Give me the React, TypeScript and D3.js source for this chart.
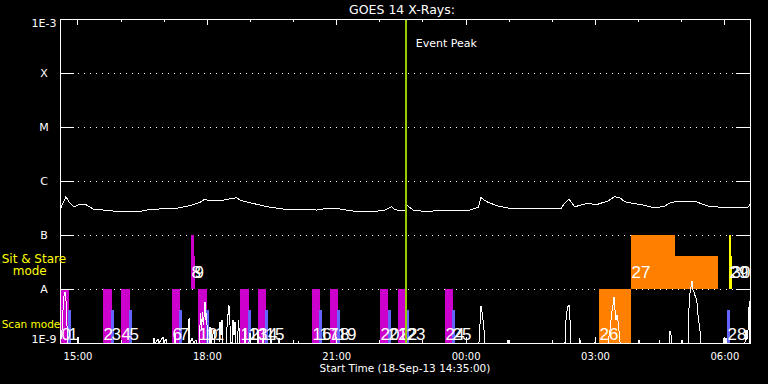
import React from "react";
import * as d3 from "d3";

// GOES 14 X-ray overview, 18-Sep-13 14:35 → +16 h
const startTime = new Date(2013, 8, 18, 14, 35, 0);
const spanHours = 16;
const peakMinute = 481; // event peak, minutes after start

// flux level labels (W m^-2)
const levelNames = ["1E-9", "A", "B", "C", "M", "X", "1E-3"];
const levelFlux = [1e-9, 1e-8, 1e-7, 1e-6, 1e-5, 1e-4, 1e-3];

// GOES long channel, minutes after start / W m^-2
const fluxMinutes = [
  1.4, 2.8, 8.3, 13.9, 19.5, 27.8, 37.1, 46.3, 69.6, 83.5, 111.3, 115.5, 143.3, 162.4,
  180.9, 194.8, 201.7, 205.9, 226.8, 236.5, 245.8, 250.4, 259.8, 278.3, 292.2, 310.7,
  357.1, 375.7, 389.6, 403.5, 422, 449.8, 461.5, 466.1, 480, 482.4, 491.5, 505.5, 570.4,
  582, 585.7, 593.7, 607.6, 626.1, 651.1, 683.5, 697.5, 701.2, 708.2, 716.1, 734.6,
  746.2, 762.4, 771.8, 778.7, 785.7, 799.6, 813.5, 827.4, 841.3, 850.5, 864.4, 883.1,
  901.6, 920.1, 943.3, 957.2, 960,
];
const fluxValues = [
  3.12e-7, 3.59e-7, 5.12e-7, 3.86e-7, 3.34e-7, 3.7e-7, 3.59e-7, 3.03e-7, 2.82e-7, 2.67e-7,
  2.67e-7, 2.86e-7, 3.07e-7, 3.12e-7, 3.49e-7, 4.04e-7, 4.64e-7, 4.4e-7, 4.4e-7, 4.7e-7,
  4.91e-7, 4.45e-7, 4.08e-7, 3.59e-7, 3.26e-7, 3.03e-7, 2.9e-7, 3.16e-7, 3.03e-7, 2.82e-7,
  2.67e-7, 2.82e-7, 3.34e-7, 2.94e-7, 2.78e-7, 3.59e-7, 2.9e-7, 2.75e-7, 2.9e-7, 3.26e-7,
  4.91e-7, 4.14e-7, 3.49e-7, 3.12e-7, 3.07e-7, 3.16e-7, 3.16e-7, 3.75e-7, 4.58e-7, 3.34e-7,
  3.86e-7, 3.64e-7, 4.27e-7, 5.12e-7, 4.91e-7, 4.14e-7, 3.8e-7, 3.55e-7, 3.16e-7, 3.44e-7,
  4.04e-7, 4.21e-7, 4.21e-7, 3.44e-7, 3.26e-7, 3.16e-7, 3.26e-7, 3.7e-7,
];

// activity trace in the scan band, minutes after start / percent of band
const traceMinutes = [
  0.7, 2.8, 4.2, 5.6, 7.0, 8.3, 9.7, 11.1, 23.7, 25.0, 26.4,
  129.4, 130.8, 132.2, 136.3, 137.7, 143.3, 144.7, 147.5, 148.9, 158.6, 160.0, 161.4,
  178.1, 179.5, 180.9, 183.7, 186.4, 189.2, 190.6,
  193.4, 195.8, 196.9, 198.5, 199.7, 201.7, 203.1, 204.1, 205.2,
  207.3, 208.7, 210.1, 214.3, 215.7, 221.2, 222.6, 224.0, 225.4, 226.8,
  231.0, 233.0, 235.1, 236.5, 237.9, 239.3, 240.7, 242.1, 243.5, 244.9, 247.0, 248.3, 250.4,
  256.0, 257.4, 258.8, 262.9, 264.3, 265.7, 274.1, 275.5, 276.9,
  281.0, 282.4, 283.8, 292.2, 293.6, 295.0, 303.3, 304.7, 306.1,
  324.2, 324.9, 325.6, 331.1, 331.8, 332.5,
  582.9, 584.3, 585.7, 587.8, 589.9, 591.3, 622.6, 623.3, 624.7,
  684.5, 685.2, 685.9, 702.6, 704.0, 706.1, 708.2, 709.6, 711.0, 722.1, 723.1, 724.2,
  744.3, 745.0, 745.7, 762.4, 765.2, 767.6, 769.3, 770.8, 772.2, 773.5, 774.9, 776.8, 779.1, 780.5,
  805.6, 806.3, 807.0, 833.4, 834.1, 834.8, 847.3, 848.7, 850.1, 851.5, 865.4, 866.1, 866.8,
  873.8, 874.7, 876.5, 877.9, 879.3, 880.7, 882.1, 883.9, 885.9, 888.1, 890.4, 891.4,
  922.4, 923.8, 925.2, 926.6, 928.0, 953.0, 954.4, 955.8, 957.2, 959.0, 960.0,
];
const traceValues = [
  0, 24, 61, 87, 94, 80, 33, 0, 0, 11, 0,
  0, 9, 0, 7, 0, 11, 0, 7, 0, 0, 19, 0,
  0, 46, 0, 9, 0, 6, 0,
  0, 56, 24, 58, 33, 76, 43, 56, 0,
  0, 30, 0, 24, 0, 0, 39, 15, 43, 0,
  0, 43, 70, 33, 0, 0, 43, 15, 39, 0, 0, 43, 0,
  0, 28, 0, 0, 19, 0, 0, 24, 0,
  0, 9, 0, 0, 7, 0, 0, 9, 0,
  0, 6, 0, 0, 4, 0,
  0, 33, 69, 52, 24, 0, 0, 6, 0,
  0, 6, 0, 0, 43, 67, 69, 43, 0, 0, 9, 0,
  0, 11, 0, 0, 24, 56, 70, 86, 61, 43, 52, 37, 2, 0,
  0, 6, 0, 0, 6, 0, 0, 22, 15, 0, 0, 6, 0,
  0, 56, 93, 104, 115, 98, 95, 86, 80, 46, 24, 0,
  0, 9, 0, 9, 0, 0, 24, 6, 24, 78, 0,
];

// observing events: minutes after start, mode band, type, relative height
const eventLabels = [
  "0", "1", "2", "3", "4", "5", "6", "7", "8", "9", "10", "11", "12", "13", "14", "15",
  "16", "17", "18", "19", "20", "21", "22", "23", "24", "25", "26", "27", "", "28", "29", "30",
];
const eventStart = [
  1.4, 11.1, 59.8, 71.0, 84.9, 96.0, 155.8, 165.6, 182.3, 186.4, 192.0, 203.1, 250.4, 261.6,
  275.5, 285.2, 350.6, 360.3, 375.7, 385.4, 445.2, 456.3, 470.3, 481.4, 535.7, 545.4, 749.9,
  794.4, 855.6, 928.0, 930.8, 933.5,
];
const eventEnd = [
  12.5, 15.3, 71.7, 75.1, 96.7, 100.2, 167.0, 169.7, 186.4, 187.8, 204.5, 207.3, 262.3, 265.7,
  286.6, 289.4, 361.7, 364.5, 386.8, 389.6, 456.3, 460.5, 481.4, 485.6, 546.8, 549.6, 794.4,
  855.6, 915.5, 932.2, 933.5, 934.9,
];
const eventMode = [
  "scan", "scan", "scan", "scan", "scan", "scan", "scan", "scan", "stare", "stare", "scan", "scan",
  "scan", "scan", "scan", "scan", "scan", "scan", "scan", "scan", "scan", "scan", "scan", "scan",
  "scan", "scan", "scan", "stare", "stare", "scan", "stare", "stare",
];
const eventType = [
  0, 1, 0, 1, 0, 1, 0, 1, 0, 0, 0, 1, 0, 1, 0, 1, 0, 1, 0, 1, 0, 1, 0, 1, 0, 1, 2, 2, 2, 1, 3, 3,
];
const eventLevel = [
  1, 0.61, 1, 0.61, 1, 0.61, 1, 0.61, 1, 0.62, 1, 0.61, 1, 0.61, 1, 0.61, 1, 0.61, 1, 0.61,
  1, 0.61, 1, 0.61, 1, 0.61, 1, 1, 0.61, 0.61, 1, 0.61,
];

const typeColors = ["#cc00cc", "#6464ff", "#ff8000", "#ffff00"];

const W = 768;
const H = 384;
const left = 60;
const right = 750;
const top = 19;
const bottom = 343;

const font = "'DejaVu Sans', sans-serif";

const App = () => {
  const atMin = (m) => new Date(startTime.getTime() + m * 60000);
  const endTime = d3.timeHour.offset(startTime, spanHours);

  const x = d3.scaleTime().domain([startTime, endTime]).range([left, right]);
  const y = d3.scaleLog().domain([1e-9, 1e-3]).range([bottom, top]);

  // bands inside the two lowest decades
  const bands = {
    scan: { top: y(1e-8), bottom: y(1e-9), labelY: 339.5 },
    stare: { top: y(1e-7), bottom: y(1e-8), labelY: 278 },
  };

  const traceY = d3.scaleLinear().domain([0, 100]).range([bands.scan.bottom, bands.scan.top]);

  const fluxLine = d3
    .line()
    .x((d) => x(atMin(d[0])))
    .y((d) => y(d[1]));
  const traceLine = d3
    .line()
    .x((d) => x(atMin(d[0])))
    .y((d) => traceY(d[1]));

  const fluxPath = fluxLine(fluxMinutes.map((m, i) => [m, fluxValues[i]]));
  const tracePath = traceLine(traceMinutes.map((m, i) => [m, traceValues[i]]));

  const hours = x.ticks(d3.timeHour.every(1));
  const fmt = d3.timeFormat("%H:%M");
  const startFmt = d3.timeFormat("%d-%b-%y %H:%M:%S");

  const events = eventStart.map((s, i) => {
    const band = bands[eventMode[i]];
    const x0 = x(atMin(s));
    const x1 = x(atMin(eventEnd[i]));
    const h = (band.bottom - band.top) * eventLevel[i];
    return { x0, x1, y0: band.bottom - h, h, band, i };
  });

  const innerLevels = levelFlux.slice(1, -1);
  const px = x(atMin(peakMinute));

  return (
    <svg
      width={W}
      height={H}
      style={{ position: "absolute", left: 0, top: 0, background: "#000" }}
    >
      <rect x={0} y={0} width={W} height={H} fill="#000" />

      {/* dotted levels */}
      {innerLevels.map((f) => (
        <line
          key={"g" + f}
          x1={left}
          x2={right}
          y1={Math.round(y(f)) + 0.5}
          y2={Math.round(y(f)) + 0.5}
          stroke="#fff"
          strokeDasharray="1,5"
        />
      ))}

      {/* event bars */}
      <g shapeRendering="crispEdges">
        {events.map((e) => (
          <rect
            key={"e" + e.i}
            x={e.x0}
            y={e.y0}
            width={Math.max(1, e.x1 - e.x0)}
            height={e.h}
            fill={typeColors[eventType[e.i]]}
          />
        ))}
      </g>

      {/* curves */}
      <g fill="none" stroke="#fff" strokeWidth={1} shapeRendering="crispEdges">
        <path d={fluxPath} />
        <path d={tracePath} />
      </g>

      {/* event numbers */}
      {events.map((e) =>
        eventLabels[e.i] ? (
          <text
            key={"l" + e.i}
            x={e.x0 + 0.5}
            y={e.band.labelY}
            fill="#fff"
            fontFamily="'Liberation Sans', sans-serif"
            fontSize={17}
          >
            {eventLabels[e.i]}
          </text>
        ) : null
      )}

      {/* event peak */}
      <line
        x1={px}
        x2={px}
        y1={top}
        y2={bottom}
        stroke="#99cc00"
        strokeWidth={2}
        shapeRendering="crispEdges"
      />
      <text x={px + 10} y={47} fill="#fff" fontFamily={font} fontSize={11}>
        Event Peak
      </text>

      {/* frame */}
      <g shapeRendering="crispEdges" stroke="#fff" fill="none">
        <rect x={left} y={top} width={right - left} height={bottom - top} />
        {innerLevels.map((f) => (
          <g key={"t" + f}>
            <line x1={left} x2={left + 14} y1={y(f)} y2={y(f)} />
            <line x1={right - 14} x2={right} y1={y(f)} y2={y(f)} />
          </g>
        ))}
        {hours.map((h) => {
          const len = h.getHours() % 3 === 0 ? 6 : 3;
          return (
            <g key={"h" + h.getTime()}>
              <line x1={x(h)} x2={x(h)} y1={top} y2={top + len} />
              <line x1={x(h)} x2={x(h)} y1={bottom} y2={bottom - len} />
            </g>
          );
        })}
      </g>

      {/* y labels */}
      {levelNames.map((n, i) => {
        const yy = y(levelFlux[i]);
        const base = i === 0 ? yy : i === levelNames.length - 1 ? yy + 8 : yy + 4;
        return (
          <text
            key={"y" + n}
            x={44}
            y={base}
            fill="#fff"
            textAnchor="middle"
            fontFamily={font}
            fontSize={11}
          >
            {n}
          </text>
        );
      })}

      {/* x labels */}
      {hours
        .filter((h) => h.getHours() % 3 === 0)
        .map((h) => (
          <text
            key={"x" + h.getTime()}
            x={x(h)}
            y={359.5}
            fill="#fff"
            textAnchor="middle"
            fontFamily={font}
            fontSize={10}
          >
            {fmt(h)}
          </text>
        ))}

      <text
        x={(left + right) / 2}
        y={372}
        fill="#fff"
        textAnchor="middle"
        fontFamily={font}
        fontSize={10.5}
      >
        {`Start Time (${startFmt(startTime)})`}
      </text>

      <text x={402} y={14} fill="#fff" textAnchor="middle" fontFamily={font} fontSize={12.5}>
        GOES 14 X-Rays:
      </text>

      {/* mode labels */}
      <g fill="#ffff00" fontFamily={font} fontSize={12}>
        <text x={1.7} y={262.5}>Sit &amp; Stare</text>
        <text x={12.7} y={274.5}>mode</text>
        <text x={1.7} y={327.5} fontSize={10.5}>
          Scan mode
        </text>
      </g>
    </svg>
  );
};

export default App;
